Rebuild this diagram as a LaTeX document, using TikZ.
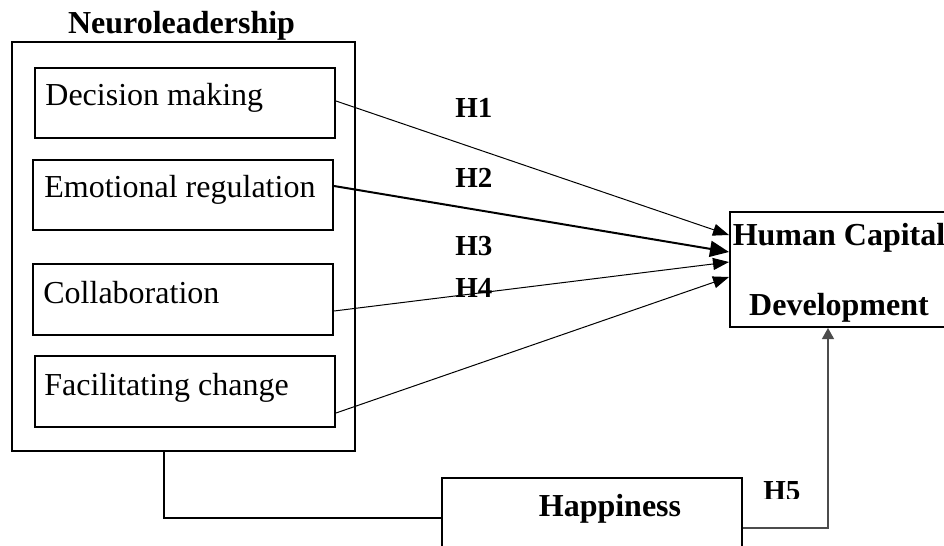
\documentclass[tikz,border=0pt]{standalone}
\usepackage{fontspec}
\setmainfont{Liberation Serif}
\usetikzlibrary{arrows.meta,calc}
\begin{document}
\begin{tikzpicture}[x=0.5pt,y=-0.5pt,
  box/.style={draw, line width=1pt, rectangle, inner sep=0pt},
  lbl/.style={anchor=base west, inner sep=0pt, font=\fontsize{16}{19}\selectfont},
  ttl/.style={anchor=base, inner sep=0pt, font=\bfseries\fontsize{16}{19}\selectfont},
  hyp/.style={anchor=base west, inner sep=0pt, font=\bfseries\fontsize{14.5}{17}\selectfont},
  link/.style={line width=0.5pt, -{Triangle[length=8pt,width=6pt]}},
  strong link/.style={line width=1pt, -{Triangle[length=9.5pt,width=8pt]}},
]
\clip (0,0) rectangle (944,546);

% Neuroleadership group and its four dimensions
\node[box, minimum width=171.5pt, minimum height=204.5pt] (outer) at (183.5,246.5) {};
\node[box, minimum width=150pt, minimum height=35pt] (dm) at (185,103) {};
\node[box, minimum width=150pt, minimum height=35pt] (er) at (183,195) {};
\node[box, minimum width=150pt, minimum height=35.5pt] (co) at (183,299.5) {};
\node[box, minimum width=150pt, minimum height=35.5pt] (fc) at (185,391.5) {};

% Outcome and mediator
\node[box, minimum width=109pt, minimum height=57.5pt] (hcd) at (839,269.5) {};
\node[box, minimum width=150pt, minimum height=50pt] (hap) at (592,528) {};

% Texts
\node[ttl] (nltitle) at (181.5,33) {Neuroleadership};
\node[lbl] (dmtext) at (45,105) {Decision making};
\node[lbl] (ertext) at (44,197) {Emotional regulation};
\node[lbl] (cotext) at (43,303) {Collaboration};
\node[lbl] (fctext) at (44,395) {Facilitating change};
\node[ttl] (hcdtop) at (839,245) {Human Capital};
\node[ttl] (hcdbot) at (839,315) {Development};
\node[ttl] (haptext) at (610,516) {Happiness};

% Hypothesis labels
\node[hyp] (h1) at (455,118) {H1};
\node[hyp] (h2) at (455,187) {H2};
\node[hyp] (h3) at (455,255) {H3};
\node[hyp] (h4) at (455,297) {H4};
\begin{scope}
  \clip (740,470) rectangle (830,498);
  \node[hyp] (h5) at (763,500) {H5};
\end{scope}

% Direct paths
\draw[link] ($(dm.east)+(0,-2)$) -- ($(hcd.west)+(0,-34.5)$);
\draw[strong link] ($(er.east)+(0,-9)$) -- ($(hcd.west)+(0,-17.5)$);
\draw[link] ($(co.east)+(0,11.5)$) -- ($(hcd.west)+(0,-7.5)$);
\draw[link] ($(fc.east)+(0,21.5)$) -- ($(hcd.west)+(0,7.5)$);

% Mediated path through happiness
\draw[line width=0.8pt] ($(outer.south west)+(153,0)$) |- ($(hap.west)+(0,-10)$);
\draw[line width=0.6pt, black!70, -{Triangle[length=5.5pt,width=6pt]}] (hap.east) -| ($(hcd.south)+(-11,0)$);
\end{tikzpicture}
\end{document}
